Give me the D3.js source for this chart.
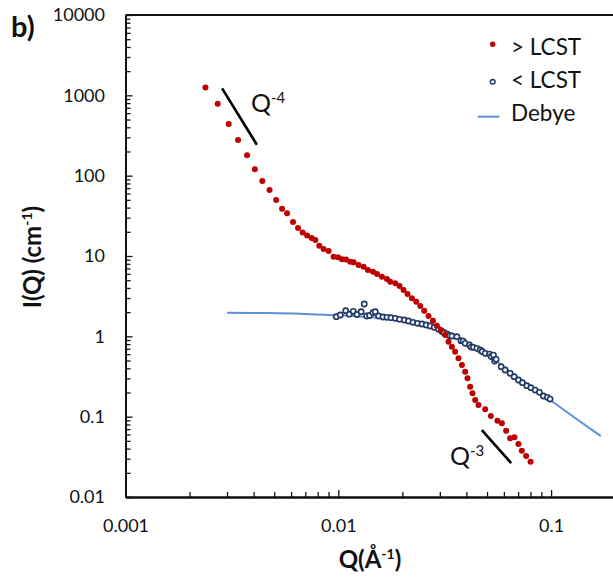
<!DOCTYPE html>
<html><head><meta charset="utf-8">
<script src="https://cdn.jsdelivr.net/npm/d3@7"></script>
<style>
body{margin:0;background:#fff}
svg{display:block}
text{font-family:Lato,"Open Sans",sans-serif;fill:#111}
</style>
</head><body>
<svg id="c" width="613" height="585"></svg>
<script>
// ---- data ----
const qAbove = [0.002375,0.002712,0.003055,0.003381,0.003726,0.004055,0.004396,0.004753,0.005105,0.005441,
  0.005743,0.006127,0.006468,0.006798,0.007138,0.007493,0.007798,0.008141,0.008531,0.009005,
  0.00950,0.009968,0.01041,0.01087,0.01138,0.0118,0.01245,0.01315,0.01378,0.01455,
  0.0152,0.01604,0.01693,0.01754,0.01852,0.0194,0.02026,0.02115,0.02218,0.02323,
  0.02427,0.02534,0.02655,0.02784,0.02906,0.03035,0.03179,0.03295,0.03418,0.03541,
  0.03671,0.0381,0.03946,0.04046,0.04166,0.04272,0.04398,0.04558,0.049,0.05211,
  0.05597,0.05869,0.06148,0.06421,0.06726,0.07024,0.07286,0.07631,0.0801];
const iAbove = [1252,784,440,278,179,120,85.8,66.3,49.8,38.7,
  34.1,26.5,22.3,19.6,18.0,16.7,15.8,13.4,12.2,11.5,
  9.80,9.63,9.09,9.04,8.49,8.35,7.72,7.36,6.69,6.38,
  5.97,5.52,5.17,4.79,4.57,4.23,3.77,3.36,2.97,2.70,
  2.385,2.085,1.79,1.565,1.356,1.199,1.038,0.857,0.743,0.643,
  0.533,0.44,0.363,0.300,0.236,0.1953,0.1612,0.1396,0.1234,0.1019,
  0.0891,0.0827,0.0668,0.0538,0.0553,0.0456,0.0377,0.0324,0.0275];

const qBelow = [0.009786,0.01022,0.01084,0.01126,0.01176,0.01224,0.0128,0.01324,0.0136,0.01403,
  0.01455,0.01492,0.01546,0.01622,0.01693,0.01768,0.01852,0.0194,0.02042,0.02138,
  0.02242,0.02357,0.02472,0.02588,0.02703,0.02823,0.02957,0.03068,0.03128,0.03238,
  0.0332,0.03418,0.03608,0.03768,0.03862,0.03946,0.04133,0.04211,0.04316,0.04478,
  0.04642,0.04744,0.049,0.05133,0.05228,0.0536,0.0543,0.05519,0.05826,0.06081,
  0.06421,0.06705,0.07024,0.07334,0.0769,0.08031,0.08413,0.08813,0.09201,0.09607,0.0989];
const iBelow = [1.755,1.842,2.084,1.886,2.049,1.869,2.025,2.525,1.79,1.816,
  1.968,2.025,1.79,1.74,1.725,1.705,1.676,1.629,1.597,1.551,
  1.495,1.453,1.424,1.383,1.344,1.295,1.223,1.148,1.116,1.069,
  1.024,1.009,0.989,0.882,0.874,0.819,0.78,0.736,0.73,0.709,
  0.676,0.647,0.615,0.602,0.561,0.585,0.493,0.518,0.4186,0.3808,
  0.3464,0.3144,0.2859,0.2646,0.2428,0.2293,0.2146,0.2009,0.1807,0.1741,0.1658];

const qDebye = [0.003003,0.0043,0.006631,0.009172,0.01269,0.01754,0.02178,0.02703,0.03356,0.04166,0.05171,0.06421,0.07968,0.0989,0.1297,0.1711];
const iDebye = [1.968,1.951,1.912,1.842,1.765,1.643,1.508,1.306,1.054,0.78,0.569,0.3596,0.2373,0.1612,0.0962,0.0574];

const slope4Q = [0.002844,0.004143], slope4I = [1223,242.9];
const slope3Q = [0.04727,0.06491],  slope3I = [0.0682,0.02649];
const label4Pos = [0.003889, 620];
const label3Pos = [0.03349, 0.025];

const xTickValues = [0.001,0.01,0.1];
const xTickLabels = ["0.001","0.01","0.1"];
const yTickValues = [0.01,0.1,1,10,100,1000,10000];
const yTickLabels = ["0.01","0.1","1","10","100","1000","10000"];

const seriesNames = ["> LCST","< LCST","Debye"];
const red = "#C00000", navy = "#1F3864", lineBlue = "#5B91D8";

// ---- chart ----
const svg = d3.select("#c");
const x = d3.scaleLog().domain([0.001,0.2]).range([125.5, 125.5 + 212.8*Math.log10(200)]);
const y = d3.scaleLog().domain([0.01,10000]).range([497,15]);

const xMinor = x.ticks().filter(v => !xTickValues.some(t => Math.abs(t-v)/t < 1e-6));
const yMinor = y.ticks().filter(v => !yTickValues.some(t => Math.abs(t-v)/t < 1e-6));

function styleAxis(g){
  g.select(".domain").attr("stroke","#111").attr("stroke-width",1.8);
  g.selectAll(".tick line").attr("stroke","#111").attr("stroke-width",1.3);
  g.selectAll(".tick text").attr("font-size",18).attr("font-family","Lato, 'Open Sans', sans-serif").attr("fill","#111");
}

svg.append("g").attr("transform","translate(0,497)")
  .call(d3.axisBottom(x).tickValues(xMinor).tickSize(-5).tickSizeOuter(0).tickFormat(""))
  .call(styleAxis);
svg.append("g").attr("transform","translate(0,497)")
  .call(d3.axisBottom(x).tickValues(xTickValues).tickSize(-7).tickSizeOuter(0).tickPadding(22)
    .tickFormat((d,i)=>xTickLabels[i]))
  .call(styleAxis);

svg.append("g").attr("transform","translate(125.5,0)")
  .call(d3.axisLeft(y).tickValues(yMinor).tickSize(-5).tickSizeOuter(0).tickFormat(""))
  .call(styleAxis);
svg.append("g").attr("transform","translate(125.5,0)")
  .call(d3.axisLeft(y).tickValues(yTickValues).tickSize(-7).tickSizeOuter(0).tickPadding(20.5)
    .tickFormat((d,i)=>yTickLabels[i]))
  .call(styleAxis);

// top border
svg.append("line").attr("x1",x.range()[0]).attr("x2",x.range()[1])
  .attr("y1",y(10000)).attr("y2",y(10000)).attr("stroke","#111").attr("stroke-width",1.8);

// Debye line
const debye = qDebye.map((q,i)=>[q,iDebye[i]]);
svg.append("path").datum(debye)
  .attr("fill","none").attr("stroke",lineBlue).attr("stroke-width",2)
  .attr("d", d3.line().x(d=>x(d[0])).y(d=>y(d[1])).curve(d3.curveMonotoneX));

// below LCST (open circles)
svg.append("g").selectAll("circle").data(qBelow.map((q,i)=>[q,iBelow[i]])).join("circle")
  .attr("cx",d=>x(d[0])).attr("cy",d=>y(d[1])).attr("r",2.6)
  .attr("fill","#fff").attr("stroke",navy).attr("stroke-width",1.6);

// above LCST (filled dots)
svg.append("g").selectAll("circle").data(qAbove.map((q,i)=>[q,iAbove[i]])).join("circle")
  .attr("cx",d=>x(d[0])).attr("cy",d=>y(d[1])).attr("r",3).attr("fill",red);

// slope guides
svg.append("line").attr("x1",x(slope4Q[0])).attr("y1",y(slope4I[0]))
  .attr("x2",x(slope4Q[1])).attr("y2",y(slope4I[1])).attr("stroke","#000").attr("stroke-width",2.6);
svg.append("line").attr("x1",x(slope3Q[0])).attr("y1",y(slope3I[0]))
  .attr("x2",x(slope3Q[1])).attr("y2",y(slope3I[1])).attr("stroke","#000").attr("stroke-width",2.6);

function qLabel(pos, exp){
  const t = svg.append("text").attr("x",x(pos[0])).attr("y",y(pos[1])).attr("font-size",25);
  t.append("tspan").text("Q");
  t.append("tspan").attr("dy",-9).attr("font-size",15).text(exp);
}
qLabel(label4Pos,"-4");
qLabel(label3Pos,"-3");

// legend
const lg = svg.append("g");
lg.append("circle").attr("cx",492.7).attr("cy",44.3).attr("r",2.7).attr("fill",red);
lg.append("text").attr("x",511).attr("y",55).attr("font-size",22.5).text(seriesNames[0]);
lg.append("circle").attr("cx",492.7).attr("cy",81.7).attr("r",2.3).attr("fill","#fff").attr("stroke",navy).attr("stroke-width",1.5);
lg.append("text").attr("x",511).attr("y",88.3).attr("font-size",22.5).text(seriesNames[1]);
lg.append("line").attr("x1",477.7).attr("x2",499.3).attr("y1",116.7).attr("y2",116.7).attr("stroke",lineBlue).attr("stroke-width",2);
lg.append("text").attr("x",511).attr("y",121).attr("font-size",22.5).text(seriesNames[2]);

// axis titles
const xt = svg.append("text").attr("x",370).attr("y",568).attr("text-anchor","middle")
  .attr("font-size",24).attr("font-weight","bold");
xt.append("tspan").text("Q(Å");
xt.append("tspan").attr("dy",-9).attr("font-size",14).text("-1");
xt.append("tspan").attr("dy",9).text(")");

const yt = svg.append("text").attr("transform","translate(40.5,257) rotate(-90)").attr("text-anchor","middle")
  .attr("font-size",24).attr("font-weight","bold");
yt.append("tspan").text("I(Q) (cm");
yt.append("tspan").attr("dy",-9).attr("font-size",14).text("-1");
yt.append("tspan").attr("dy",9).text(")");

// panel label
svg.append("text").attr("x",11).attr("y",37).attr("font-size",29).attr("font-weight","bold").text("b)");
</script>
</body></html>
